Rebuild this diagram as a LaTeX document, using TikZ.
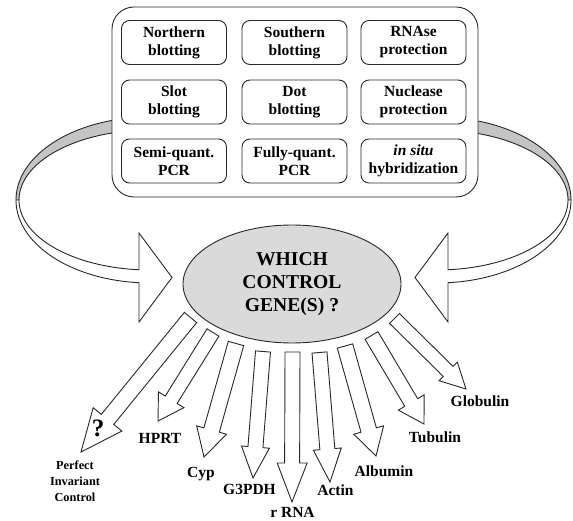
\documentclass[tikz,border=0pt]{standalone}
\usepackage{fontspec}
\setmainfont{Liberation Serif}
\usetikzlibrary{calc,shapes.geometric}
\definecolor{ellfill}{RGB}{218,218,218}
\definecolor{bandgray}{RGB}{196,196,196}
\definecolor{ink}{RGB}{40,40,40}
\tikzset{
  outline/.style={draw=ink, line width=0.9pt, line join=miter},
  methodbox/.style={outline, rounded corners=8pt, minimum width=105pt, minimum height=44pt,
    align=center, font=\fontsize{15.5}{18}\selectfont\bfseries, inner sep=0pt},
  panel/.style={outline, fill=white, rounded corners=22pt, minimum width=366pt, minimum height=190pt},
  question/.style={ellipse, outline, fill=ellfill, minimum width=218pt, minimum height=118pt,
    inner sep=0pt, align=center, font=\fontsize{19.6}{23}\selectfont\bfseries},
  genelabel/.style={font=\fontsize{15.5}{18}\selectfont\bfseries, anchor=base, inner sep=0pt},
  smalllabel/.style={font=\fontsize{12.3}{16}\selectfont\bfseries, align=center, inner sep=0pt},
  fanshape/.style={outline, fill=white},
  ribbonwhite/.style={outline, fill=white},
  ribbongray/.style={outline, fill=bandgray},
}
\newcommand\fanarrowdraw[5]{%
  \coordinate (hb) at ($(#2)!#5!(#1)$);
  \draw[fanshape] ($(#1)!#3!90:(#2)$) -- ($(hb)!#3!90:(#2)$) -- ($(hb)!#4!90:(#2)$) -- (#2)
    -- ($(hb)!#4!-90:(#2)$) -- ($(hb)!#3!-90:(#2)$) -- ($(#1)!#3!-90:(#2)$) -- cycle;
}
\newcommand\ribbonleft{%
  \draw[ribbongray] plot[domain=262:180,samples=60] ({150+134*cos(\x)},{200+83*sin(\x)})
    -- plot[domain=180:262,samples=60] ({150+131*cos(\x)},{200+70*sin(\x)}) -- cycle;
  \draw[ribbonwhite] plot[domain=180:94.7,samples=60] ({150+134*cos(\x)},{200+83*sin(\x)})
    -- (139,322) -- (172,277.5) -- (139,233)
    -- plot[domain=94.8:180,samples=60] ({150+131*cos(\x)},{200+70*sin(\x)}) -- cycle;
}
\begin{document}
\begin{tikzpicture}[x=1pt,y=-1pt]
\useasboundingbox (0,0) rectangle (573,521);
% loop arrows
\ribbonleft
\begin{scope}[shift={(587,0)},xscale=-1]
  \ribbonleft
\end{scope}
% panel of methods
\node[panel] (panel) at (295,102) {};
\node[methodbox] (northern) at (174,42.5) {Northern\\blotting};
\node[methodbox] (southern) at (294.5,42.5) {Southern\\blotting};
\node[methodbox] (rnase) at (413.5,42.5) {RNAse\\protection};
\node[methodbox] (slot) at (174,102) {Slot\\blotting};
\node[methodbox] (dot) at (294.5,102) {Dot\\blotting};
\node[methodbox] (nuclease) at (413.5,102) {Nuclease\\protection};
\node[methodbox] (semi) at (174,161) {Semi-quant.\\PCR};
\node[methodbox] (fully) at (294.5,161) {Fully-quant.\\PCR};
\node[methodbox] (insitu) at (413.5,161) {\textit{in situ}\\hybridization};
% fan arrows
\coordinate (S1) at (190.5,317.5); \coordinate (T1) at (81,452);
\coordinate (S2) at (213,332.5);   \coordinate (T2) at (158,421);
\coordinate (S3) at (236,343.5);   \coordinate (T3) at (204,457);
\coordinate (S4) at (263,351.5);   \coordinate (T4) at (253,478);
\coordinate (S5) at (292.5,352);   \coordinate (T5) at (292,502);
\coordinate (S6) at (319.5,352.5); \coordinate (T6) at (330,482);
\coordinate (S7) at (345,346);     \coordinate (T7) at (376,456);
\coordinate (S8) at (371.5,335.5); \coordinate (T8) at (424,424);
\coordinate (S9) at (394.5,318.5); \coordinate (T9) at (466,389);
\fanarrowdraw{S1}{T1}{8pt}{18.5pt}{42pt}
\fanarrowdraw{S2}{T2}{7pt}{15pt}{25pt}
\fanarrowdraw{S3}{T3}{8pt}{15.5pt}{28pt}
\fanarrowdraw{S4}{T4}{7.5pt}{14pt}{31pt}
\fanarrowdraw{S5}{T5}{7.5pt}{15pt}{39pt}
\fanarrowdraw{S6}{T6}{7.5pt}{14pt}{33pt}
\fanarrowdraw{S7}{T7}{8pt}{15.5pt}{27pt}
\fanarrowdraw{S8}{T8}{7.5pt}{15pt}{25pt}
\fanarrowdraw{S9}{T9}{7pt}{13pt}{25pt}
% central question
\node[question] (which) at (292,284) {WHICH\\CONTROL\\GENE(S) ?};
\node[font=\fontsize{25}{25}\selectfont\bfseries, inner sep=0pt] (qmark) at (98,428) {?};
% labels
\node[smalllabel] (perfect) at (75,481) {Perfect\\Invariant\\Control};
\node[genelabel] (hprt) at (160,443) {HPRT};
\node[genelabel] (cyp) at (201,477) {Cyp};
\node[genelabel] (g3pdh) at (249.5,494.5) {G3PDH};
\node[genelabel] (rrna) at (292.5,517.5) {r RNA};
\node[genelabel] (actin) at (335.5,495) {Actin};
\node[genelabel] (albumin) at (384,476) {Albumin};
\node[genelabel] (tubulin) at (435,442.7) {Tubulin};
\node[genelabel] (globulin) at (480,406) {Globulin};
\end{tikzpicture}
\end{document}
